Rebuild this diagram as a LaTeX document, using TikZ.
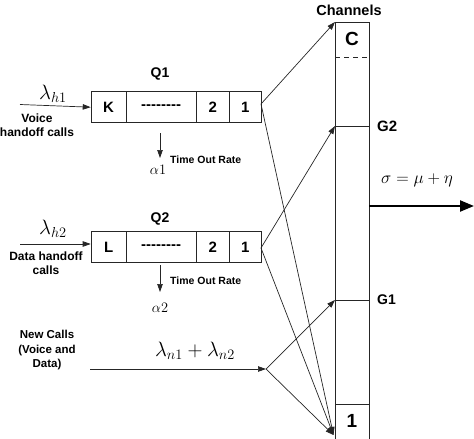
\documentclass[tikz,border=0pt]{standalone}
\usepackage{fontspec}
\setmainfont{Liberation Sans}
\usetikzlibrary{arrows.meta}
\newcommand{\hy}{\mbox{-}}
\begin{document}
\begin{tikzpicture}[x=1pt,y=-1pt,
  ln/.style={draw=black!85,line width=0.7pt},
  arr/.style={ln,-{Triangle[length=8pt,width=5.5pt]}},
  cell/.style={draw=black!85,line width=0.8pt,minimum height=31pt,inner sep=0pt,font=\bfseries\fontsize{15}{15}\selectfont},
  lbl/.style={font=\bfseries\fontsize{12}{14}\selectfont,align=center,inner sep=0pt},
  qlbl/.style={font=\bfseries\fontsize{14}{14}\selectfont,inner sep=0pt},
  tlbl/.style={font=\bfseries\fontsize{10.5}{12}\selectfont,inner sep=0pt,anchor=west},
  mlbl/.style={inner sep=0pt,font=\fontsize{20}{20}\selectfont}]
\useasboundingbox (0,0) rectangle (474,439);
% Channel column
\node[draw=black!85,line width=0.8pt,minimum width=34pt,minimum height=420pt,inner sep=0pt,anchor=north west] (chan) at (335,22) {};
\node[inner sep=0pt,font=\bfseries\fontsize{19}{19}\selectfont] (cC) at (352,39) {C};
\node[inner sep=0pt,font=\bfseries\fontsize{19}{19}\selectfont] (c1) at (352,421) {1};
\coordinate (dl) at (335,57); \coordinate (dr) at (369,57);
\draw[ln,dash pattern=on 5pt off 4pt] (dl) -- (dr);
\coordinate (g2l) at (335,126); \coordinate (g2r) at (369,126);
\draw[ln] (g2l) -- (g2r);
\coordinate (g1l) at (335,300); \coordinate (g1r) at (369,300);
\draw[ln] (g1l) -- (g1r);
\coordinate (b1l) at (335,404); \coordinate (b1r) at (369,404);
\draw[ln] (b1l) -- (b1r);
\node[qlbl,font=\bfseries\fontsize{14.5}{14}\selectfont] (chl) at (349,10) {Channels};
\node[qlbl,anchor=west,font=\bfseries\fontsize{15}{14}\selectfont] (g2t) at (377,126) {G2};
\node[qlbl,anchor=west] (g1t) at (377,300) {G1};
% output
\coordinate (os) at (369,206); \coordinate (oe) at (474,206);
\draw[draw=black,line width=2.2pt,-{Triangle[length=14pt,width=11pt]}] (os) -- (oe);
\node[mlbl,font=\fontsize{17.5}{17}\selectfont] (sig) at (417,180) {$\sigma=\mu+\eta$};
% Q1
\node[cell,minimum width=35pt,anchor=north west] (k1) at (90.7,91.3) {K};
\node[cell,minimum width=70pt,anchor=north west] (d1) at (125.7,91.3) {\hy\hy\hy\hy\hy\hy\hy\hy};
\node[cell,minimum width=33.6pt,anchor=north west] (t1) at (195.7,91.3) {2};
\node[cell,minimum width=31.4pt,anchor=north west] (o1) at (229.3,91.3) {1};
\node[qlbl] (q1) at (160,74) {Q1};
\coordinate (in1) at (20,104.5);
\draw[arr] (in1) -- (k1.west);
\node[mlbl] (lh1) at (53,94) {$\lambda_{h1}$};
\node[lbl] (vh) at (37,125) {Voice\\handoff calls};
\coordinate (to1s) at (160,133); \coordinate (to1e) at (160,158);
\draw[arr] (to1s) -- (to1e);
\node[tlbl] (tr1) at (170,160) {Time Out Rate};
\node[mlbl,font=\fontsize{15.5}{15}\selectfont] (a1) at (158,170) {$\alpha1$};
% Q2
\node[cell,minimum width=35pt,anchor=north west] (k2) at (90.7,231.3) {L};
\node[cell,minimum width=70pt,anchor=north west] (d2) at (125.7,231.3) {\hy\hy\hy\hy\hy\hy\hy\hy};
\node[cell,minimum width=33.6pt,anchor=north west] (t2) at (195.7,231.3) {2};
\node[cell,minimum width=31.4pt,anchor=north west] (o2) at (229.3,231.3) {1};
\node[qlbl] (q2) at (160,219) {Q2};
\coordinate (in2) at (20,244);
\draw[arr] (in2) -- (in2 -| k2.west);
\node[mlbl] (lh2) at (53,229) {$\lambda_{h2}$};
\node[lbl] (dh) at (46,263.5) {Data handoff\\calls};
\coordinate (to2s) at (160,265); \coordinate (to2e) at (160,292);
\draw[arr] (to2s) -- (to2e);
\node[tlbl] (tr2) at (170,281) {Time Out Rate};
\node[mlbl,font=\fontsize{15.5}{15}\selectfont] (a2) at (160,308) {$\alpha2$};
% New calls
\node[lbl,font=\bfseries\fontsize{11.5}{14.5}\selectfont] (nc) at (47,350.5) {New Calls\\(Voice and\\Data)};
\coordinate (in3) at (90,369); \coordinate (nc3) at (266,369);
\draw[arr] (in3) -- (nc3);
\node[mlbl,font=\fontsize{21}{21}\selectfont] (lnn) at (195,351) {$\lambda_{n1}+\lambda_{n2}$};
% connectors
\coordinate (q1o) at (261,104);
\coordinate (q2o) at (261,248);
\coordinate (bot) at (333.5,435);
\coordinate (ctop) at (335,22);
\draw[arr] (q1o) -- (ctop);
\draw[arr] (q1o) -- (bot);
\draw[arr] (q2o) -- (g2l);
\draw[arr] (q2o) -- (bot);
\draw[arr] (nc3) -- (g1l);
\draw[arr] (nc3) -- (bot);
\end{tikzpicture}
\end{document}
